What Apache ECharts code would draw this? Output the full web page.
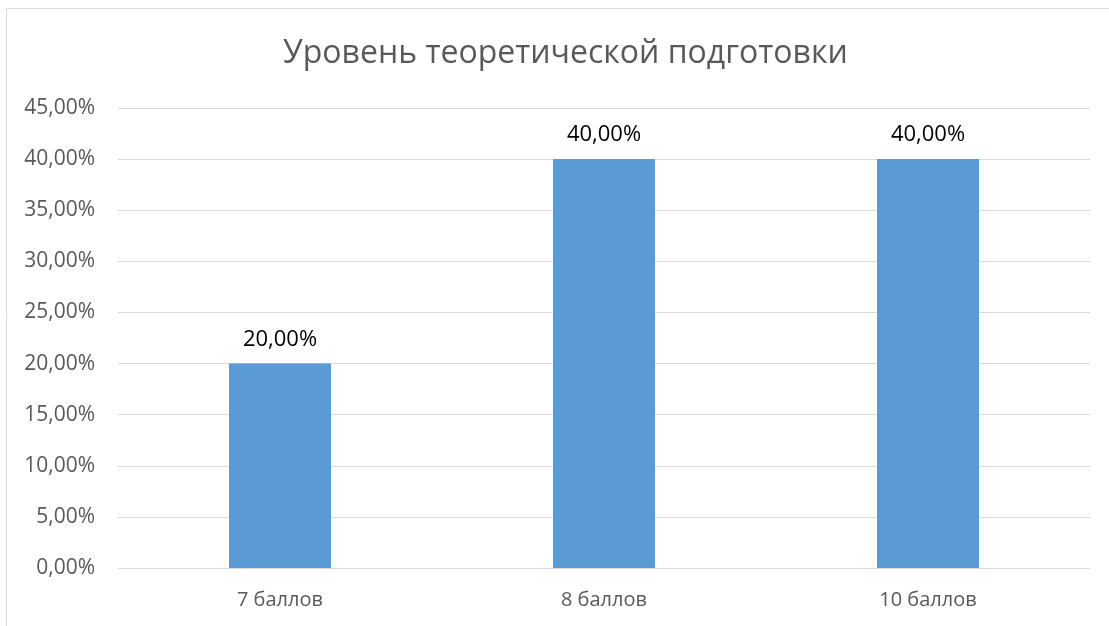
<!DOCTYPE html>
<html><head><meta charset="utf-8">
<script src="https://cdn.jsdelivr.net/npm/echarts@6/dist/echarts.min.js"></script>
<style>html,body{margin:0;padding:0;background:#fff}#c{width:1109px;height:626px}</style>
</head><body><div id="c"></div>
<script>
const categories = ['7 баллов', '8 баллов', '10 баллов'];
const values = [0.20, 0.40, 0.40];
const titleText = 'Уровень теоретической подготовки';

const fmtPct = v => (v * 100).toFixed(2).replace('.', ',') + '%';

const chart = echarts.init(document.getElementById('c'));
chart.setOption({
  backgroundColor: '#fff',
  animation: false,
  title: {
    text: titleText, left: 278, top: 33,
    textStyle: { fontFamily: 'Open Sans', fontSize: 32, fontWeight: 'normal', color: '#595959' }
  },
  graphic: [{
    type: 'rect', silent: true,
    shape: { x: 6.5, y: 8.5, width: 1110, height: 700 },
    style: { fill: 'none', stroke: '#d9d9d9', lineWidth: 1 }
  }],
  grid: { left: 118, right: 19, top: 108, bottom: 58 },
  xAxis: {
    type: 'category', data: categories,
    axisLine: { lineStyle: { color: '#d9d9d9', width: 1 } },
    axisTick: { show: false },
    axisLabel: { fontFamily: 'Open Sans', fontSize: 20, color: '#595959', margin: 22 }
  },
  yAxis: {
    type: 'value', min: 0, max: 0.45, interval: 0.05,
    axisLine: { show: false }, axisTick: { show: false },
    splitLine: { lineStyle: { color: '#d9d9d9', width: 1 } },
    axisLabel: { fontFamily: 'Open Sans', fontSize: 21, color: '#595959', margin: 23, formatter: v => fmtPct(v) }
  },
  series: [{
    type: 'bar', data: values, barWidth: '31.5%',
    itemStyle: { color: '#5b9bd5' },
    label: {
      show: true, position: 'top', distance: 13,
      fontFamily: 'Open Sans', fontSize: 22, color: '#000',
      formatter: p => fmtPct(p.value)
    }
  }]
});
</script></body></html>
